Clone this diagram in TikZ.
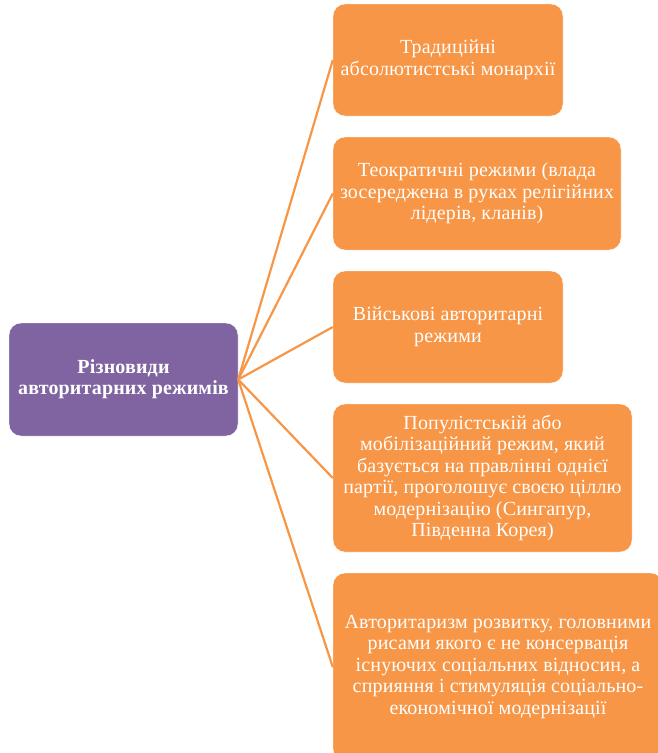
\documentclass[tikz,border=0pt]{standalone}
\usepackage{fontspec}
\setmainfont[LetterSpace=0.8]{Liberation Serif}
\definecolor{kindfill}{HTML}{F79646}
\definecolor{rootfill}{HTML}{8064A2}
\begin{document}
\begin{tikzpicture}
	[x=1pt, y=-1pt, inner sep=2pt,
	kind/.style={rectangle,rounded corners=12pt,draw=white,fill=kindfill,text=white,align=center,font=\fontsize{20}{21.5}\selectfont},
	roots/.style={rectangle,rounded corners=12pt,draw=white,fill=rootfill,text=white,align=center,font=\fontsize{20}{21}\selectfont\bfseries},
	link/.style={draw=kindfill,line width=2.2pt}]
	\useasboundingbox (0,0) rectangle (658,753);
	\node (root) at (123.5, 379.5) [roots, minimum width=229pt, minimum height=113pt] {Різновиди\\авторитарних режимів};
	\node (monarchy) at (448, 60) [kind, minimum width=230pt, minimum height=112pt] {Традиційні\\абсолютистські монархії};
	\node (theocracy) at (477, 193.5) [kind, minimum width=288pt, minimum height=113pt] {Теократичні режими (влада\\зосереджена в руках релігійних\\лідерів, кланів)};
	\node (military) at (448, 327) [kind, minimum width=230pt, minimum height=112pt] {Військові авторитарні\\режими};
	\node (populist) at (482.5, 478) [kind, minimum width=299pt, minimum height=148pt] {Популістській або\\мобілізаційний режим, який\\базується на правлінні однієї\\партії, проголошує своєю ціллю\\модернізацію (Сингапур,\\Південна Корея)};
	\node (growth) at (498, 667) [kind, minimum width=330pt, minimum height=188pt] {Авторитаризм розвитку, головними\\рисами якого є не консервація\\існуючих соціальних відносин, а\\сприяння і стимуляція соціально-\\економічної модернізації};
	\draw [link] (root.east) to (monarchy.west);
	\draw [link] (root.east) to (theocracy.west);
	\draw [link] (root.east) to (military.west);
	\draw [link] (root.east) to (populist.west);
	\draw [link] (root.east) to (growth.west);
\end{tikzpicture}
\end{document}
